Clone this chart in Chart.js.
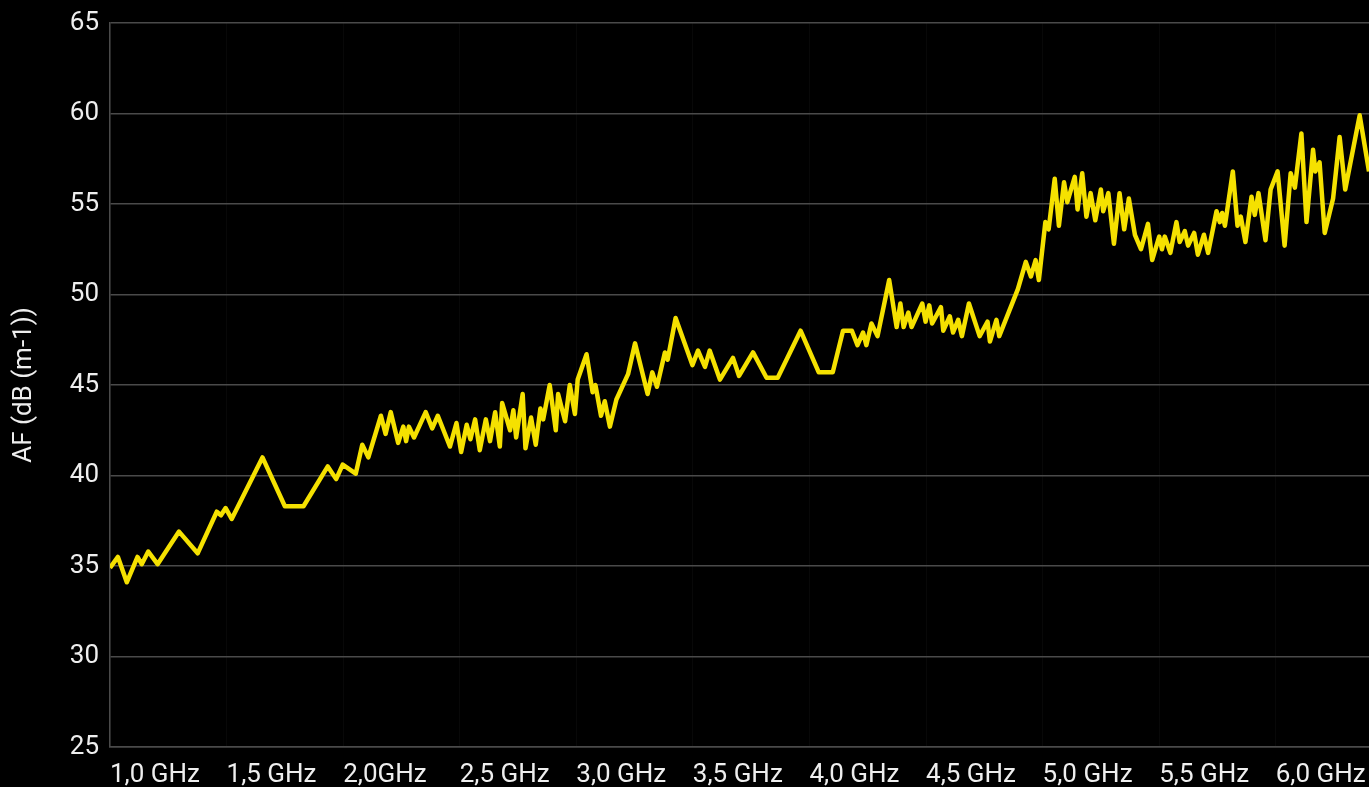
<!DOCTYPE html>
<html>
<head>
<meta charset="utf-8">
<title>AF</title>
<script src="https://cdn.jsdelivr.net/npm/chart.js@4.4.1/dist/chart.umd.min.js"></script>
<style>
  html, body { margin: 0; padding: 0; background: #000; }
  canvas { display: block; }
</style>
</head>
<body>
<canvas id="afChart" width="1369" height="787"></canvas>
<script>
// frequency in MHz, antenna factor in dB(m-1)
const freqMHz = [
  1000, 1034, 1072, 1118, 1136, 1164, 1204, 1296, 1376, 1458, 1476, 1496, 1522, 1654, 1750, 1830,
  1934, 1970, 1998, 2054, 2082, 2108, 2162, 2182, 2204, 2236, 2258, 2270, 2282, 2304, 2354, 2382,
  2406, 2458, 2486, 2506, 2530, 2546, 2566, 2586, 2612, 2630, 2652, 2672, 2682, 2716, 2730, 2742,
  2770, 2782, 2806, 2826, 2846, 2858, 2886, 2912, 2922, 2952, 2972, 2994, 3006, 3044, 3070, 3082,
  3106, 3122, 3144, 3172, 3222, 3252, 3306, 3326, 3346, 3380, 3392, 3426, 3498, 3522, 3552, 3572,
  3616, 3672, 3698, 3758, 3816, 3864, 3962, 4040, 4100, 4144, 4182, 4206, 4230, 4244, 4266, 4292,
  4342, 4374, 4390, 4404, 4424, 4438, 4484, 4498, 4514, 4526, 4564, 4574, 4602, 4616, 4638, 4654,
  4684, 4730, 4764, 4774, 4802, 4814, 4894, 4928, 4950, 4970, 4984, 5012, 5026, 5052, 5070, 5092,
  5106, 5138, 5150, 5170, 5188, 5206, 5226, 5250, 5260, 5282, 5306, 5330, 5350, 5370, 5396, 5422,
  5452, 5470, 5500, 5512, 5524, 5548, 5574, 5588, 5610, 5624, 5650, 5666, 5692, 5710, 5746, 5760,
  5770, 5782, 5816, 5836, 5850, 5870, 5896, 5910, 5926, 5956, 5978, 6008, 6038, 6064, 6082, 6110,
  6132, 6160, 6170, 6188, 6210, 6246, 6274, 6298, 6360, 6400
];
const afValues = [
  34.9, 35.5, 34.1, 35.5, 35.1, 35.8, 35.1, 36.9, 35.7, 38.0, 37.8, 38.2, 37.6, 41.0, 38.3, 38.3,
  40.5, 39.8, 40.6, 40.1, 41.7, 41.0, 43.3, 42.3, 43.5, 41.8, 42.7, 41.9, 42.7, 42.1, 43.5, 42.6,
  43.3, 41.6, 42.9, 41.3, 42.8, 42.0, 43.1, 41.4, 43.1, 41.9, 43.5, 41.6, 44.0, 42.5, 43.6, 42.1,
  44.5, 41.5, 43.2, 41.7, 43.7, 43.1, 45.0, 42.5, 44.5, 43.0, 45.0, 43.4, 45.3, 46.7, 44.6, 45.0,
  43.3, 44.1, 42.7, 44.2, 45.6, 47.3, 44.5, 45.7, 44.9, 46.8, 46.4, 48.7, 46.1, 46.9, 46.0, 46.9,
  45.3, 46.5, 45.5, 46.8, 45.4, 45.4, 48.0, 45.7, 45.7, 48.0, 48.0, 47.2, 47.9, 47.2, 48.4, 47.7,
  50.8, 48.2, 49.5, 48.2, 49.0, 48.2, 49.5, 48.5, 49.4, 48.4, 49.3, 48.0, 48.8, 47.9, 48.6, 47.7,
  49.5, 47.7, 48.5, 47.4, 48.6, 47.7, 50.3, 51.8, 51.0, 51.9, 50.8, 54.0, 53.6, 56.4, 53.8, 56.2,
  55.1, 56.5, 54.7, 56.7, 54.3, 55.6, 54.1, 55.8, 54.6, 55.6, 52.8, 55.6, 53.6, 55.3, 53.3, 52.5,
  53.9, 51.9, 53.2, 52.5, 53.2, 52.3, 54.0, 52.9, 53.5, 52.7, 53.4, 52.2, 53.3, 52.3, 54.6, 54.0,
  54.5, 53.8, 56.8, 53.8, 54.3, 52.9, 55.4, 54.4, 55.6, 53.0, 55.8, 56.8, 52.7, 56.7, 55.9, 58.9,
  54.0, 58.0, 56.8, 57.3, 53.4, 55.3, 58.7, 55.8, 59.9, 56.8
];
const xTickValues = [1000, 1500, 2000, 2500, 3000, 3500, 4000, 4500, 5000, 5500, 6000];
const xTickLabels = ['1,0 GHz', '1,5 GHz', '2,0GHz', '2,5 GHz', '3,0 GHz', '3,5 GHz', '4,0 GHz', '4,5 GHz', '5,0 GHz', '5,5 GHz', '6,0 GHz'];

const gridGray = '#4a4a4a';
const textColor = '#eeeeee';
const axisFont = { family: 'Roboto', size: 26 };

const ctx = document.getElementById('afChart').getContext('2d');
new Chart(ctx, {
    type: 'line',
    data: {
        datasets: [{
            label: 'AF',
            data: freqMHz.map((f, i) => ({ x: f, y: afValues[i] })),
            borderColor: '#f5e100',
            borderWidth: 4.5,
            borderJoinStyle: 'round',
            pointRadius: 0,
            tension: 0,
            fill: false
        }]
    },
    options: {
        responsive: false,
        animation: false,
        layout: { padding: { top: 23, right: 0, bottom: 0, left: 0 } },
        plugins: { legend: { display: false }, tooltip: { enabled: false } },
        scales: {
            x: {
                type: 'linear',
                min: 1000,
                max: 6400,
                // fixed tick positions, labels start at the tick
                afterBuildTicks: scale => { scale.ticks = xTickValues.map(v => ({ value: v })); },
                afterFit: scale => {
                    scale.height = 40;
                    scale.paddingLeft = 0;
                    scale.paddingRight = 0;
                },
                grid: { color: '#080808', drawTicks: false },
                border: { color: gridGray, width: 1.5 },
                ticks: {
                    autoSkip: false,
                    maxRotation: 0,
                    align: 'start',
                    padding: 13,
                    color: textColor,
                    font: axisFont,
                    callback: (value, index) => xTickLabels[index]
                }
            },
            y: {
                min: 25,
                max: 65,
                afterFit: scale => {
                    scale.width = 110;
                    scale.paddingTop = 0;
                    scale.paddingBottom = 0;
                },
                grid: { color: gridGray, lineWidth: 1.5, drawTicks: false },
                border: { color: gridGray, width: 1.5 },
                ticks: { stepSize: 5, padding: 11, color: textColor, font: axisFont },
                title: {
                    display: true,
                    text: 'AF (dB (m-1))',
                    color: textColor,
                    font: axisFont,
                    padding: { top: 9, bottom: 0 }
                }
            }
        }
    }
});
</script>
</body>
</html>
